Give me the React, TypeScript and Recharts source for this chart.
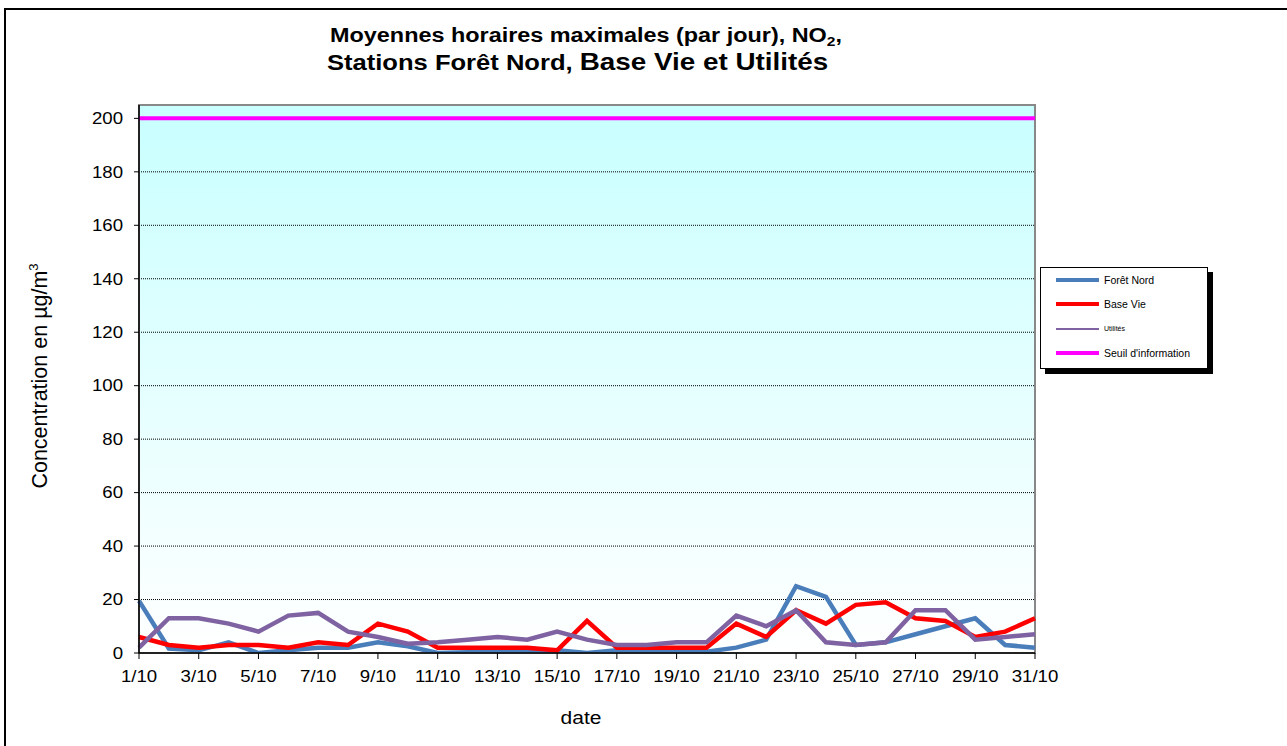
import React from 'react';
import {
  LineChart,
  Line,
  XAxis,
  YAxis,
  CartesianGrid,
  ReferenceArea,
} from 'recharts';

const days = [
  '1/10', '2/10', '3/10', '4/10', '5/10', '6/10', '7/10', '8/10', '9/10', '10/10',
  '11/10', '12/10', '13/10', '14/10', '15/10', '16/10', '17/10', '18/10', '19/10', '20/10',
  '21/10', '22/10', '23/10', '24/10', '25/10', '26/10', '27/10', '28/10', '29/10', '30/10',
  '31/10',
];

const foretNord = [19.5, 1.7, 1, 4, 0, 1, 2, 2, 4, 2.5, 0, 0.3, 0.3, 0.5, 1, 0, 1, 0.5, 0.5, 0.5, 2, 5, 25, 21, 3, 4, 7, 10, 13, 3, 2];
const baseVie = [6, 3, 2, 3, 3, 2, 4, 3, 11, 8, 2, 2, 2, 2, 1, 12, 2, 2, 2, 2, 11, 6, 16, 11, 18, 19, 13, 12, 6, 8, 13];
const utilites = [2, 13, 13, 11, 8, 14, 15, 8, 6, 3.5, 4, 5, 6, 5, 8, 5, 3, 3, 4, 4, 14, 10, 16, 4, 3, 4, 16, 16, 5, 6, 7];
const seuilInformation = 200;

const yTicks = [0, 20, 40, 60, 80, 100, 120, 140, 160, 180, 200];

const series = [
  { key: 'foret', name: 'Forêt Nord', color: '#4A7EBB', width: 4.5, legendWidth: 4, legendFont: 10.5 },
  { key: 'base', name: 'Base Vie', color: '#FF0000', width: 4.5, legendWidth: 4, legendFont: 10.5 },
  { key: 'util', name: 'Utilités', color: '#7F62A1', width: 4.5, legendWidth: 2, legendFont: 7 },
  { key: 'seuil', name: "Seuil d'information", color: '#FF00FF', width: 4, legendWidth: 4, legendFont: 10.5 },
];

const rows = days.map((d, i) => ({
  day: d,
  foret: foretNord[i],
  base: baseVie[i],
  util: utilites[i],
  seuil: seuilInformation,
}));

const FONT = '"Liberation Sans", Arial, sans-serif';
const SX = 1.2; // the original picture is stretched sideways
const TICK_SX = 1.15;

const XTick = (props: any) => {
  const { x, y, payload } = props;
  return (
    <text
      transform={`translate(${x},${y}) scale(${TICK_SX},1)`}
      textAnchor="middle"
      dy="0.71em"
      fontSize={16.2}
      fontFamily={FONT}
      fill="#000"
    >
      {payload.value}
    </text>
  );
};

const YTick = (props: any) => {
  const { x, y, payload } = props;
  return (
    <text
      transform={`translate(${x},${y}) scale(${TICK_SX},1)`}
      textAnchor="end"
      dy="0.355em"
      fontSize={16.2}
      fontFamily={FONT}
      fill="#000"
    >
      {payload.value}
    </text>
  );
};

const LegendBox = () => (
  <div
    style={{
      position: 'absolute',
      left: 1040,
      top: 267,
      width: 166,
      height: 100,
      background: '#fff',
      border: '1px solid #000',
      boxShadow: '5px 5px 0 #000',
      fontFamily: FONT,
    }}
  >
    {series.map((s, i) => (
      <div key={s.key} style={{ position: 'absolute', left: 15, top: 12 + i * 24.4, height: 0 }}>
        <div
          style={{
            position: 'absolute',
            left: 0,
            top: -s.legendWidth / 2,
            width: 43,
            height: s.legendWidth,
            background: s.color,
          }}
        />
        <div
          style={{
            position: 'absolute',
            left: 48,
            top: -s.legendFont * 0.6,
            fontSize: s.legendFont,
            lineHeight: 1.2,
            whiteSpace: 'nowrap',
            color: '#000',
          }}
        >
          {s.name}
        </div>
      </div>
    ))}
  </div>
);

export default function App() {
  return (
    <div
      style={{
        position: 'absolute',
        left: 0,
        top: 0,
        width: 1287,
        height: 746,
        overflow: 'hidden',
        background: '#fff',
        fontFamily: FONT,
      }}
    >
      <div
        style={{
          position: 'absolute',
          left: 4,
          top: 8,
          width: 1400,
          height: 900,
          borderTop: '2px solid #000',
          borderLeft: '2px solid #000',
        }}
      />
      <div
        style={{
          position: 'absolute',
          left: 0,
          top: 22,
          width: 1172,
          textAlign: 'center',
          fontWeight: 'bold',
          fontSize: 19.5,
          lineHeight: '27px',
          color: '#000',
          transform: `scaleX(${SX})`,
          transformOrigin: '586px 0',
        }}
      >
        <div>
          Moyennes horaires maximales (par jour), NO<sub style={{ fontSize: 13, verticalAlign: -4, lineHeight: 0 }}>2</sub>,
        </div>
        <div style={{ marginLeft: -14 }}>
          <span style={{ fontSize: 21.3 }}>Stations Forêt Nord, </span>
          <span style={{ fontSize: 23.2 }}>Base Vie et Utilités</span>
        </div>
      </div>
      <div
        style={{
          position: 'absolute',
          left: 40,
          top: 376,
          transform: 'translate(-50%, -50%) rotate(-90deg)',
          whiteSpace: 'nowrap',
          fontSize: 21.5,
          color: '#000',
        }}
      >
        Concentration en µg/m<sup style={{ fontSize: 13, lineHeight: 0 }}>3</sup>
      </div>
      <div
        style={{
          position: 'absolute',
          left: 581,
          top: 718,
          transform: `translate(-50%, -50%) scaleX(${SX})`,
          fontSize: 17.5,
          color: '#000',
        }}
      >
        date
      </div>
      <div style={{ position: 'absolute', left: 0, top: 0 }}>
        <LineChart
          width={1287}
          height={746}
          data={rows}
          margin={{ top: 105, right: 252, bottom: 63, left: 79 }}
        >
          <defs>
            <linearGradient id="plotBg" x1="0" y1="0" x2="0" y2="1">
              <stop offset="0%" stopColor="#C8FFFF" />
              <stop offset="100%" stopColor="#FFFFFF" />
            </linearGradient>
          </defs>
          <CartesianGrid
            vertical={false}
            fill="url(#plotBg)"
            fillOpacity={1}
            stroke="#000"
            strokeDasharray="1 1"
          />
          <ReferenceArea
            x1="1/10"
            x2="31/10"
            y1={0}
            y2={205}
            fill="none"
            stroke="#888"
            strokeWidth={2}
            ifOverflow="visible"
          />
          <XAxis
            dataKey="day"
            interval={1}
            height={30}
            tickSize={6}
            tickMargin={11}
            tick={<XTick />}
            axisLine={{ stroke: '#000', strokeWidth: 1.5 }}
            tickLine={{ stroke: '#000' }}
          />
          <YAxis
            domain={[0, 205]}
            ticks={yTicks}
            width={60}
            tickSize={5}
            tickMargin={11}
            tick={<YTick />}
            axisLine={{ stroke: '#000', strokeWidth: 1.5 }}
            tickLine={{ stroke: '#000' }}
            allowDataOverflow
          />
          {series.map((s) => (
            <Line
              key={s.key}
              type="linear"
              dataKey={s.key}
              name={s.name}
              stroke={s.color}
              strokeWidth={s.width}
              dot={false}
              activeDot={false}
              isAnimationActive={false}
            />
          ))}
        </LineChart>
      </div>
      <LegendBox />
    </div>
  );
}
